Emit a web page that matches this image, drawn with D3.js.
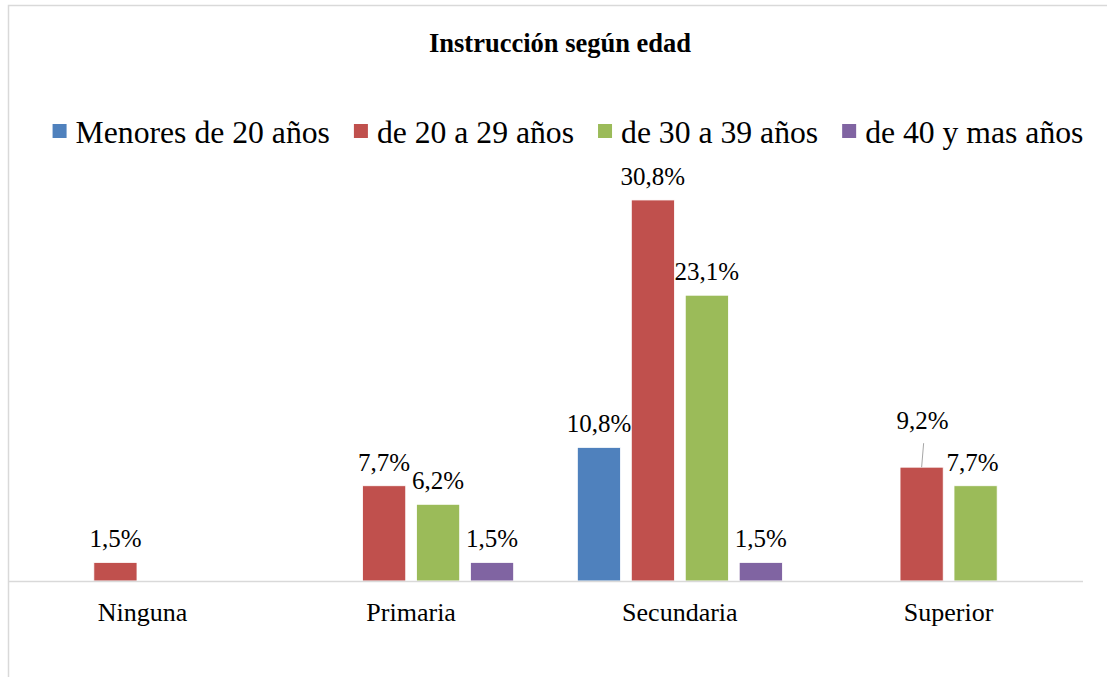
<!DOCTYPE html>
<html>
<head>
<meta charset="utf-8">
<script src="https://cdn.jsdelivr.net/npm/d3@7"></script>
<style>
  body { margin: 0; background: #fff; }
  svg text { font-family: "Liberation Serif", "DejaVu Serif", serif; fill: #000; }
</style>
</head>
<body>
<svg id="chart" width="1107" height="677"></svg>
<script>
const categories = ["Ninguna", "Primaria", "Secundaria", "Superior"];
const seriesNames = ["Menores de 20 años", "de 20 a 29 años", "de 30 a 39 años", "de 40 y mas años"];
const menores20 = [0, 0, 10.8, 0];
const de20a29 = [1.5, 7.7, 30.8, 9.2];
const de30a39 = [0, 6.2, 23.1, 7.7];
const de40mas = [0, 1.5, 1.5, 0];
const seriesColors = ["#4F81BD", "#C0504D", "#9BBB59", "#8064A2"];

const seriesValues = [menores20, de20a29, de30a39, de40mas];

const width = 1107, height = 677;
const serif = '"Liberation Serif", "DejaVu Serif", serif';
const svg = d3.select("#chart");

// chart border (right/bottom edge fall outside the picture)
svg.append("rect")
  .attr("x", 8.5).attr("y", 5.5)
  .attr("width", width + 10).attr("height", height + 10)
  .attr("fill", "none").attr("stroke", "#d9d9d9").attr("stroke-width", 1.5);

const plot = { left: 8, right: 1083, top: 148, bottom: 581 };

const x0 = d3.scaleBand()
  .domain(categories)
  .range([plot.left, plot.right])
  .paddingInner(0.237)
  .paddingOuter(0.1186);

const x1 = d3.scaleBand()
  .domain(seriesNames)
  .range([0, x0.bandwidth()])
  .paddingInner(0.2);

const y = d3.scaleLinear()
  .domain([0, 35])
  .range([plot.bottom, plot.top]);

// title
svg.append("text")
  .attr("x", 560).attr("y", 52)
  .attr("text-anchor", "middle")
  .attr("font-family", serif)
  .style("font-size", "26.5px").style("font-weight", "bold")
  .text("Instrucción según edad");

// legend
const legend = svg.append("g").attr("class", "legend");
const items = legend.selectAll("g").data(seriesNames).enter().append("g");
items.append("rect")
  .attr("width", 14).attr("height", 14)
  .attr("y", 124)
  .attr("fill", (d, i) => seriesColors[i]);
items.append("text")
  .attr("x", 23).attr("y", 143)
  .attr("font-family", serif)
  .style("font-size", "31.7px")
  .text(d => d);
let widths = [];
items.each(function () { widths.push(this.querySelector("text").getComputedTextLength() + 23); });
const gap = 24;
const total = d3.sum(widths) + gap * (widths.length - 1);
let cx = 568 - total / 2;
items.attr("transform", (d, i) => {
  const t = `translate(${cx},0)`;
  cx += widths[i] + gap;
  return t;
});

// bars
const rows = [];
seriesNames.forEach((s, si) => {
  categories.forEach((c, ci) => {
    const v = seriesValues[si][ci];
    if (v > 0) rows.push({ series: s, si: si, category: c, value: v });
  });
});

svg.append("g").selectAll("rect")
  .data(rows).enter().append("rect")
  .attr("x", d => x0(d.category) + x1(d.series))
  .attr("y", d => y(d.value))
  .attr("width", x1.bandwidth())
  .attr("height", d => y(0) - y(d.value))
  .attr("fill", d => seriesColors[d.si])
  .attr("stroke", "#fff").attr("stroke-width", 0.8);

// axis line
svg.append("line")
  .attr("x1", plot.left).attr("x2", plot.right)
  .attr("y1", y(0) + 0.5).attr("y2", y(0) + 0.5)
  .attr("stroke", "#d9d9d9").attr("stroke-width", 1.5);

// category labels
const xAxis = d3.axisBottom(x0).tickSize(0).tickPadding(0);
const gx = svg.append("g")
  .attr("transform", `translate(0,${y(0)})`)
  .call(xAxis)
  .attr("font-family", serif);
gx.select(".domain").remove();
gx.selectAll("text")
  .attr("dy", null).attr("y", 40)
  .attr("font-family", serif)
  .style("font-size", "26px")
  .attr("fill", "#000");

// data labels (one label moved up with a leader line, as in the original)
const nudges = {
  "de 20 a 29 años|Superior": { dx: 1, dy: -23, leader: true },
  "de 30 a 39 años|Superior": { dx: -3, dy: 0 }
};
const fmt = v => d3.format(".1f")(v).replace(".", ",") + "%";
const labels = svg.append("g");
rows.forEach(d => {
  const n = nudges[d.series + "|" + d.category] || { dx: 0, dy: 0 };
  const bx = x0(d.category) + x1(d.series) + x1.bandwidth() / 2;
  const by = y(d.value);
  labels.append("text")
    .attr("x", bx + n.dx).attr("y", by - 15 + n.dy)
    .attr("text-anchor", "middle")
    .attr("font-family", serif)
    .style("font-size", "25px")
    .text(fmt(d.value));
  if (n.leader) {
    labels.append("line")
      .attr("x1", bx + n.dx + 1).attr("y1", by - 15 + n.dy + 14)
      .attr("x2", bx).attr("y2", by)
      .attr("stroke", "#a6a6a6").attr("stroke-width", 1);
  }
});
</script>
</body>
</html>
